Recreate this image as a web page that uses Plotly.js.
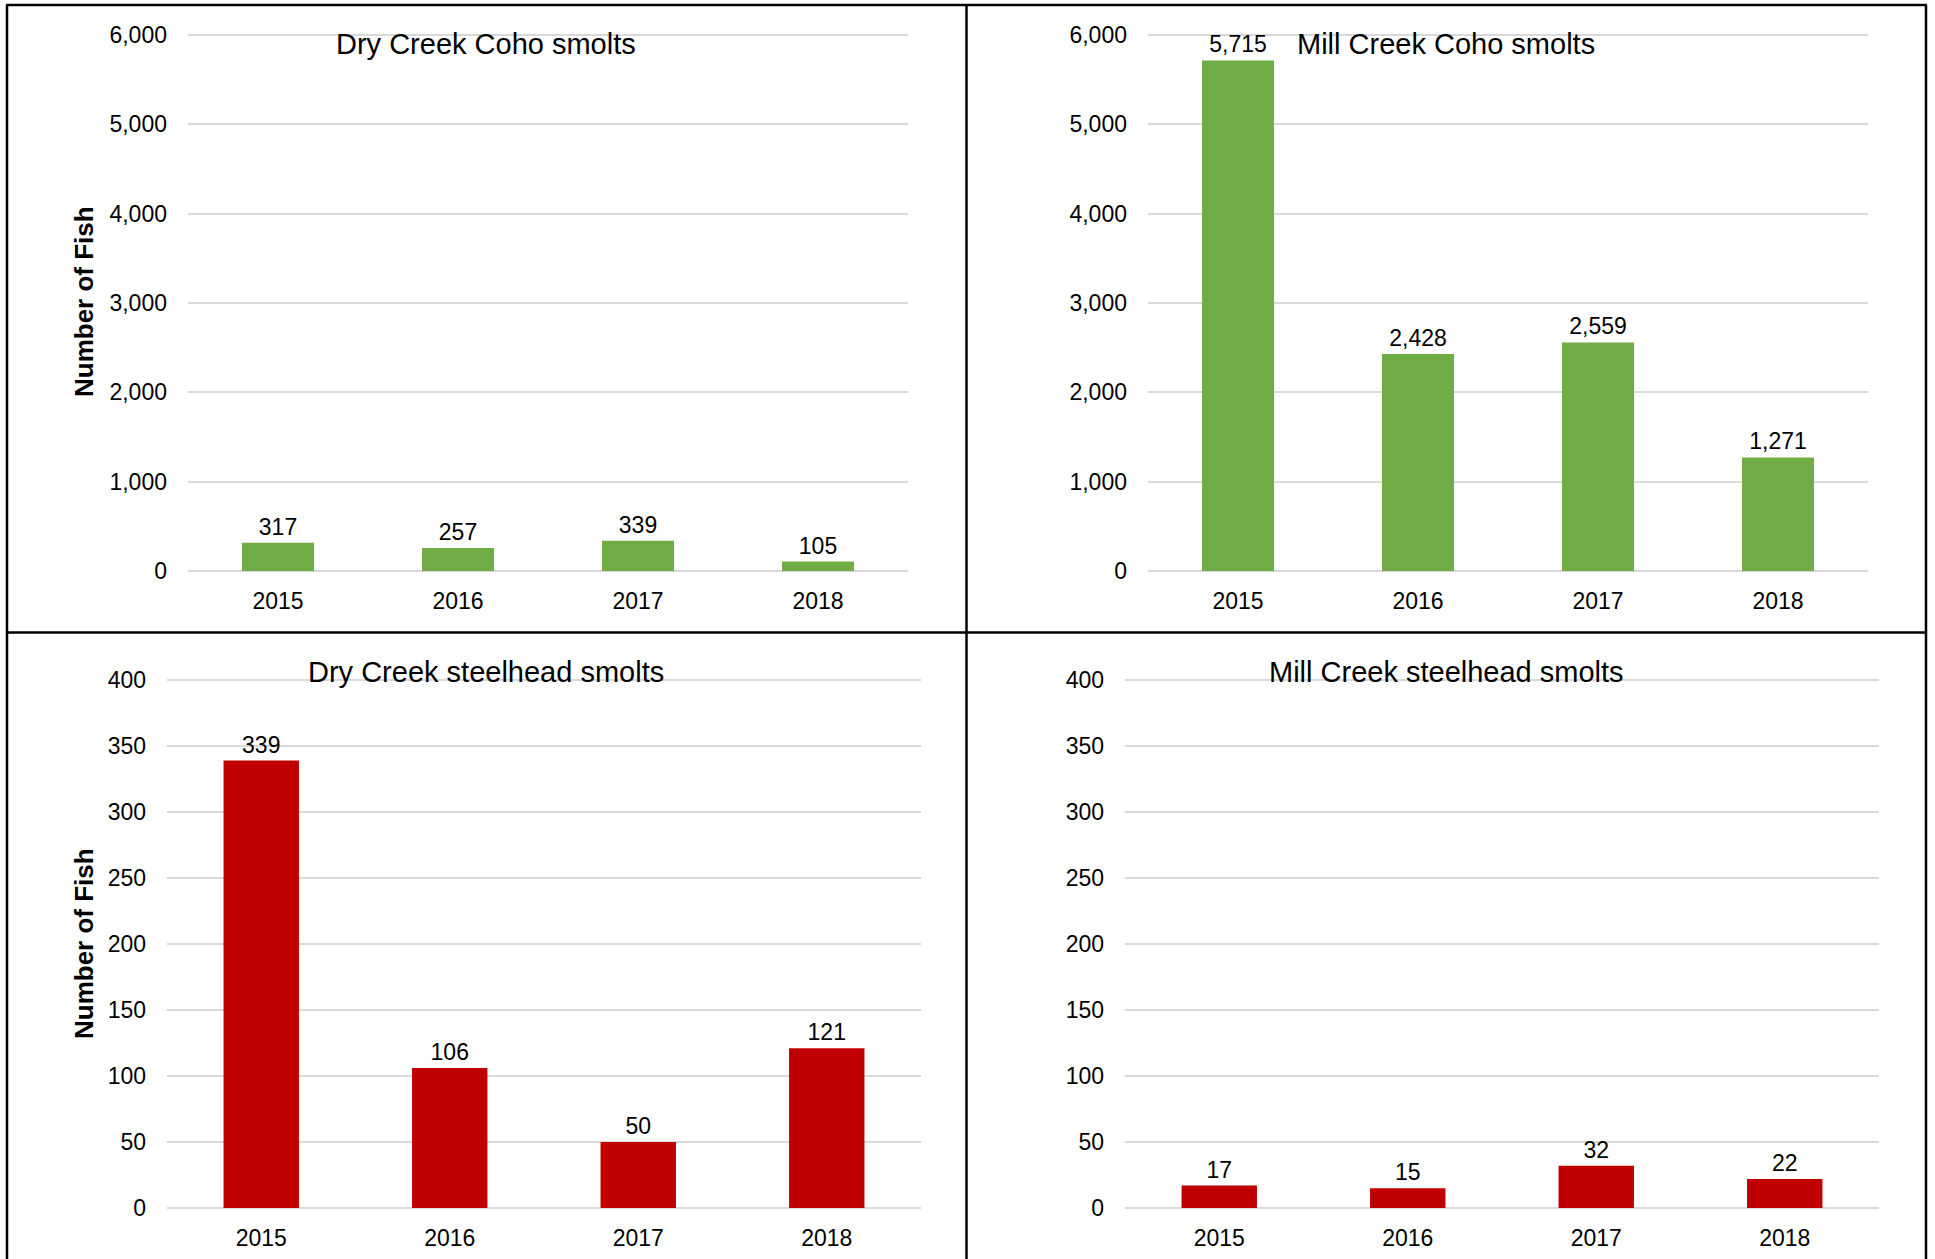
<!DOCTYPE html>
<html>
<head>
<meta charset="utf-8">
<script src="https://cdn.plot.ly/plotly-3.0.1.min.js"></script>
<style>
  html, body { margin: 0; padding: 0; background: #ffffff; }
  #chart { width: 1935px; height: 1259px; }
</style>
</head>
<body>
<div id="chart"></div>
<script>
// ---- data ----
const years = ["2015", "2016", "2017", "2018"];
const dryCoho = [317, 257, 339, 105];
const millCoho = [5715, 2428, 2559, 1271];
const drySteelhead = [339, 106, 50, 121];
const millSteelhead = [17, 15, 32, 22];
const panelTitles = ["Dry Creek Coho smolts", "Mill Creek Coho smolts", "Dry Creek steelhead smolts", "Mill Creek steelhead smolts"];
const yTitle = "Number of Fish";
const cohoColor = "#70AD47";
const steelColor = "#C00000";

// ---- geometry helpers (pixels -> paper) ----
const W = 1935, H = 1259;
const px = x => x / W;
const py = y => 1 - y / H;

const FONT = "Liberation Sans, Arial, sans-serif";
const fmt = v => v.toLocaleString("en-US");

function barTrace(values, color, xa, ya) {
  return {
    type: "bar",
    x: years,
    y: values,
    xaxis: xa,
    yaxis: ya,
    marker: { color: color },
    text: values.map(fmt),
    textposition: "outside",
    cliponaxis: false,
    textfont: { family: FONT, size: 23, color: "#000000" },
    hoverinfo: "x+y",
    showlegend: false
  };
}

const data = [
  barTrace(dryCoho, cohoColor, "x", "y"),
  barTrace(millCoho, cohoColor, "x2", "y2"),
  barTrace(drySteelhead, steelColor, "x3", "y3"),
  barTrace(millSteelhead, steelColor, "x4", "y4")
];

function xAxis(x0, x1, anchor) {
  return {
    domain: [px(x0), px(x1)],
    anchor: anchor,
    type: "category",
    showgrid: false,
    showline: false,
    zeroline: false,
    ticks: "",
    ticklabelstandoff: 14,
    tickfont: { family: FONT, size: 23, color: "#000000" },
    fixedrange: true
  };
}
// yTop is the pixel row of the top gridline; range is extended by a hair so that line is drawn
function yAxis(yTop, yBot, anchor, max, dtick) {
  const pad = 0.004;
  const topPx = yTop - (yBot - yTop) * pad;
  return {
    domain: [py(yBot), py(topPx)],
    anchor: anchor,
    range: [0, max * (1 + pad)],
    dtick: dtick,
    tickformat: ",d",
    showgrid: true,
    gridcolor: "#d9d9d9",
    gridwidth: 2,
    zeroline: true,
    zerolinecolor: "#d9d9d9",
    zerolinewidth: 2,
    showline: false,
    ticks: "",
    ticklabelstandoff: 20,
    tickfont: { family: FONT, size: 23, color: "#000000" },
    fixedrange: true
  };
}

function line(x0, y0, x1, y1) {
  return {
    type: "line", xref: "paper", yref: "paper",
    x0: px(x0), y0: py(y0), x1: px(x1), y1: py(y1),
    line: { color: "#000000", width: 2.5 }
  };
}

function titleAnn(text, cx, cy) {
  return {
    text: text, xref: "paper", yref: "paper",
    x: px(cx), y: py(cy), xanchor: "center", yanchor: "middle",
    showarrow: false,
    font: { family: FONT, size: 29, color: "#000000" },
    bgcolor: "rgba(255,255,255,0)"
  };
}
function yTitleAnn(cx, cy) {
  return {
    text: "<b>" + yTitle + "</b>", xref: "paper", yref: "paper",
    x: px(cx), y: py(cy), xanchor: "center", yanchor: "middle",
    textangle: -90, showarrow: false,
    font: { family: FONT, size: 26, color: "#000000" }
  };
}

const layout = {
  width: W,
  height: H,
  margin: { l: 0, r: 0, t: 0, b: 0, pad: 0 },
  paper_bgcolor: "#ffffff",
  plot_bgcolor: "rgba(0,0,0,0)",
  bargap: 0.6,
  showlegend: false,
  font: { family: FONT, color: "#000000" },
  xaxis: xAxis(188, 908, "y"),
  yaxis: yAxis(35, 571, "x", 6000, 1000),
  xaxis2: xAxis(1148, 1868, "y2"),
  yaxis2: yAxis(35, 571, "x2", 6000, 1000),
  xaxis3: xAxis(167, 921, "y3"),
  yaxis3: yAxis(680, 1208, "x3", 400, 50),
  xaxis4: xAxis(1125, 1879, "y4"),
  yaxis4: yAxis(680, 1208, "x4", 400, 50),
  annotations: [
    titleAnn(panelTitles[0], 486, 44),
    titleAnn(panelTitles[1], 1446, 44),
    titleAnn(panelTitles[2], 486, 672),
    titleAnn(panelTitles[3], 1446, 672),
    yTitleAnn(84, 302),
    yTitleAnn(84, 944)
  ],
  shapes: [
    line(7, 5, 7, 1259),
    line(6, 5, 1927, 5),
    line(1926, 5, 1926, 1259),
    line(966.5, 5, 966.5, 1259),
    line(6, 632.5, 1927, 632.5)
  ]
};

Plotly.newPlot("chart", data, layout, { staticPlot: true, displayModeBar: false });
</script>
</body>
</html>
